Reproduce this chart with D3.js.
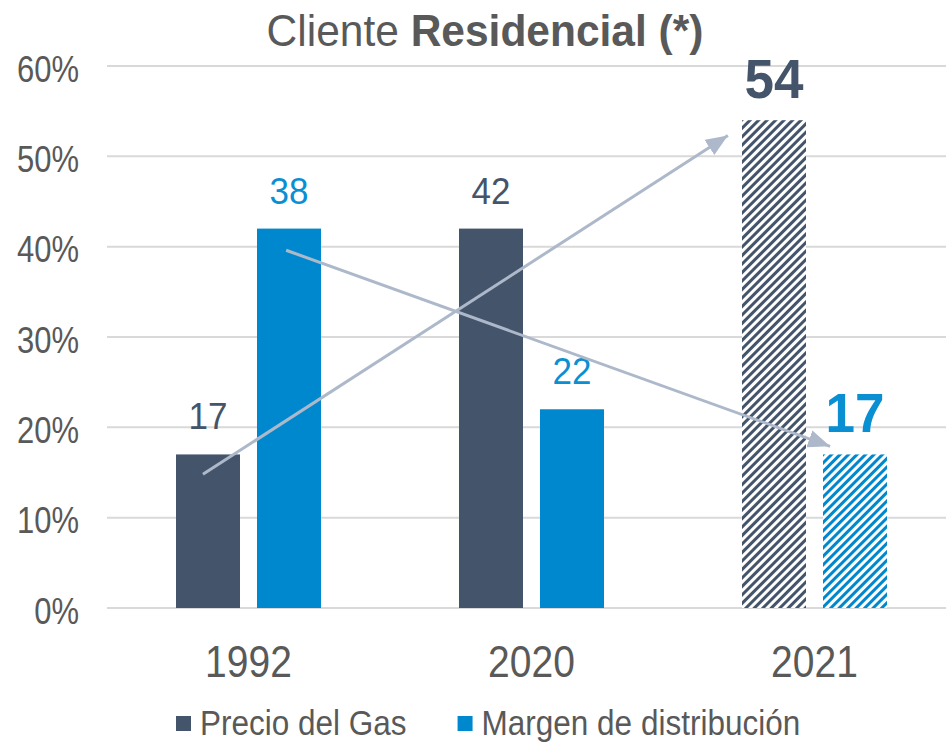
<!DOCTYPE html>
<html><head><meta charset="utf-8">
<script src="https://cdn.jsdelivr.net/npm/d3@7/dist/d3.min.js"></script>
<style>body{margin:0;background:#fff}svg{display:block}text{font-family:"Liberation Sans",Arial,sans-serif}</style>
</head><body><svg id="c" width="946" height="743"></svg>
<script>
const categories = ["1992", "2020", "2021"];
const series = ["Precio del Gas", "Margen de distribución"];
const precio = [17, 42, 54];
const margen = [42, 22, 17];
const precioLabels = ["17", "42", "54"];
const margenLabels = ["38", "22", "17"];
const projected = [false, false, true];
const yTicks = [0, 10, 20, 30, 40, 50, 60];
// arrows: x as fraction of category band, y as value (%)
const arrows = [
  {from: ["1992", 0.339, 14.8], to: ["2021", 0.194, 52.3]},
  {from: ["1992", 0.633, 39.6], to: ["2021", 0.555, 17.9]}
];

const colors = ["#44546A", "#0088CE"];
const labelColors = ["#44546A", "#0A8FD3"];
const svg = d3.select("#c");
const defs = svg.append("defs");
colors.forEach((c, i) => {
  const p = defs.append("pattern").attr("id", "hatch" + i).attr("patternUnits", "userSpaceOnUse")
    .attr("width", 6).attr("height", 6).attr("patternTransform", "rotate(45)");
  p.append("rect").attr("width", 6).attr("height", 6).attr("fill", "#fff");
  p.append("rect").attr("width", 3).attr("height", 6).attr("fill", c);
});
defs.append("marker").attr("id", "ah").attr("markerUnits", "userSpaceOnUse")
  .attr("viewBox", "0 0 22 18").attr("refX", 22).attr("refY", 9)
  .attr("markerWidth", 22).attr("markerHeight", 18).attr("orient", "auto")
  .append("path").attr("d", "M0,0L22,9L0,18Z").attr("fill", "#ADB9CA");

// vertical stretch helper for text (reference type is tall/condensed)
function stretch(sel, s) {
  sel.each(function () {
    const e = d3.select(this);
    const tx = +e.attr("x") || 0, ty = +e.attr("y") || 0;
    e.attr("x", 0).attr("y", 0).attr("dy", null)
      .attr("transform", `translate(${tx},${ty}) scale(1,${s})`);
  });
}

const x0 = d3.scaleBand().domain(categories).range([107, 956]);
const bw = x0.bandwidth();
const x1 = d3.scaleBand().domain(series).range([bw / 2 - 72.5, bw / 2 + 72.5]).paddingInner(0.21);
const y = d3.scaleLinear().domain([0, 60]).range([608, 66]);

// gridlines
svg.append("g").selectAll("line").data(yTicks).join("line")
  .attr("x1", 107).attr("x2", 946).attr("y1", d => y(d)).attr("y2", d => y(d))
  .attr("stroke", "#D9D9D9").attr("stroke-width", 2);
// y labels
const yAxis = d3.axisLeft(y).tickValues(yTicks).tickFormat(d => d + "%").tickSize(0).tickPadding(0);
const ya = svg.append("g").attr("transform", "translate(79,0)").call(yAxis);
ya.select(".domain").remove();
ya.selectAll("text").attr("fill", "#595959").style("font-size", "31px").attr("x", 0).attr("y", 15);
stretch(ya.selectAll("text"), 1.2);

// x labels
const xAxis = d3.axisBottom(x0).tickSize(0).tickPadding(0);
const xa = svg.append("g").attr("transform", "translate(0,677)").call(xAxis);
xa.select(".domain").remove();
xa.selectAll("text").attr("fill", "#595959").style("font-size", "39px").attr("y", 0);
stretch(xa.selectAll("text"), 1.13);

const rows = categories.map((c, i) => ({c, i, vals: [precio[i], margen[i]], labels: [precioLabels[i], margenLabels[i]]}));
const g = svg.append("g").selectAll("g").data(rows).join("g").attr("transform", d => `translate(${x0(d.c)},0)`);
g.selectAll("rect").data(d => d.vals.map((v, k) => ({v, k, proj: projected[d.i]}))).join("rect")
  .attr("x", d => x1(series[d.k])).attr("width", x1.bandwidth())
  .attr("y", d => y(d.v)).attr("height", d => y(0) - y(d.v))
  .attr("fill", d => d.proj ? `url(#hatch${d.k})` : colors[d.k]);

// arrows
const ax = (p) => x0(p[0]) + p[1] * bw;
svg.append("g").selectAll("line").data(arrows).join("line")
  .attr("x1", d => ax(d.from)).attr("y1", d => y(d.from[2]))
  .attr("x2", d => ax(d.to)).attr("y2", d => y(d.to[2]))
  .attr("stroke", "#ADB9CA").attr("stroke-width", 3).attr("marker-end", "url(#ah)");

// value labels
const vl = g.selectAll("text.v").data(d => d.vals.map((v, k) => ({v, k, t: d.labels[k], proj: projected[d.i]}))).join("text")
  .attr("class", "v")
  .attr("x", d => x1(series[d.k]) + x1.bandwidth() / 2)
  .attr("y", d => y(d.v) - (d.proj ? 22 : 25))
  .attr("text-anchor", "middle")
  .attr("fill", d => labelColors[d.k])
  .style("font-size", d => d.proj ? "53px" : "35px")
  .style("font-weight", d => d.proj ? "bold" : "normal")
  .text(d => d.t);
stretch(vl, 1.05);

// title
const t = svg.append("text").attr("x", 485).attr("y", 46).attr("text-anchor", "middle")
  .attr("fill", "#595959").style("font-size", "42.5px");
t.append("tspan").text("Cliente ");
t.append("tspan").style("font-weight", "bold").text("Residencial (*)");
stretch(t, 1.04);

// legend
const lg = svg.append("g").attr("transform", "translate(176,0)");
const items = lg.selectAll("g").data(series).join("g");
items.append("rect").attr("y", 716).attr("width", 15).attr("height", 15).attr("fill", (d, i) => colors[i]);
const lt = items.append("text").attr("x", 24).attr("y", 735).attr("fill", "#595959").style("font-size", "31.5px").text(d => d);
stretch(lt, 1.12);
let off = 0;
items.each(function () {
  d3.select(this).attr("transform", `translate(${off},0)`);
  off += this.getBBox().width + 51;
});
</script></body></html>
